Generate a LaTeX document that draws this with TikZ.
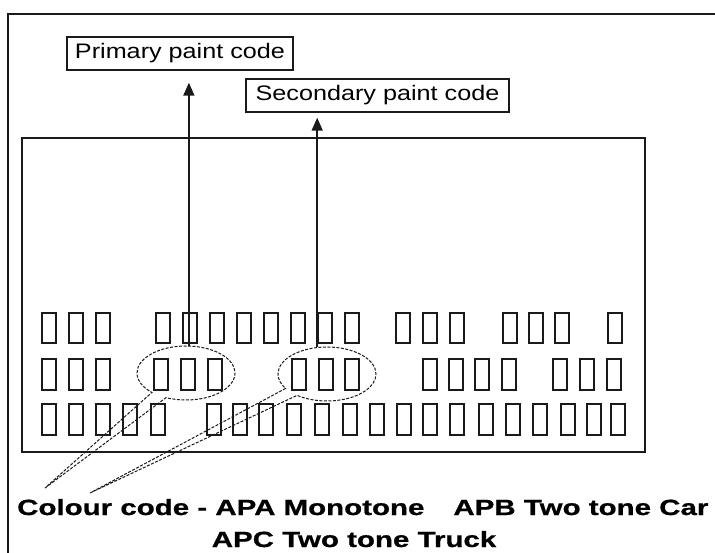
\documentclass[tikz,border=0pt]{standalone}
\usepackage{fontspec}
\setmainfont{Liberation Sans}
\newfontfamily\labelfont[FakeStretch=1.2]{Liberation Sans}
\newfontfamily\notefont[FakeStretch=1.34,FakeBold=0.8]{Liberation Sans}
\usetikzlibrary{positioning,arrows.meta,calc,shapes.callouts}
\definecolor{ink}{HTML}{1A1A1A}

\tikzset{
  codelabel/.style={draw=ink, line width=1.4pt, minimum height=33pt, inner sep=0pt,
    font=\labelfont\fontsize{21}{24}\selectfont},
  codering/.style={ellipse callout, draw=ink, line width=1pt, dash pattern=on 3pt off 1.5pt,
    minimum width=98pt, minimum height=54pt, callout pointer arc=20},
  codearrow/.style={draw=ink, line width=1.6pt, -{Triangle[length=13pt,width=11pt]}},
  notetext/.style={inner sep=0pt, font=\notefont\bfseries\fontsize{22}{26}\selectfont},
  cell/.style={draw=ink, line width=1.6pt}
}

\begin{document}
\begin{tikzpicture}[x=1pt,y=-1pt]
\useasboundingbox (0,0) rectangle (715,553);
\draw[ink, line width=1.4pt] (8,553) -- (8,14) -- (715,14);
\draw[ink, line width=2pt] (22,138) rectangle (645,452);
% rows of character cells
\foreach \x in {42,69,96,156,183,210,237,264,291,318,345,396,423,450,503,529,555,608}
  \draw[cell] (\x,313) rectangle ++(14,30);
\foreach \x in {42,69,96,154,181,208,292,319,345,423,449,475,502,553,580,607}
  \draw[cell] (\x,359) rectangle ++(14,31);
\foreach \x in {42,69,96,123,151,207,233,259,287,315,343,370,397,423,450,479,506,533,561,587,611}
  \draw[cell] (\x,404) rectangle ++(14,31);
\node[codelabel, minimum width=226pt] (prim) at (180,53.5) {Primary paint code};
\node[codelabel, minimum width=263pt] (sec) at (377.5,95.5) {Secondary paint code};
\coordinate (tipA) at (45,488);
\coordinate (tipB) at (90,493);
\node[codering, callout absolute pointer=(tipA)] (ell1) at (186,373) {};
\node[codering, callout absolute pointer=(tipB)] (ell2) at (327,374) {};
\draw[codearrow, shorten >=12pt] (ell1.84) -- (ell1.84 |- prim.south);
\draw[codearrow, shorten >=5pt] (ell2.110) -- (ell2.110 |- sec.south);
\node[notetext, anchor=base west] (cap1) at (17,515) {Colour code - APA Monotone\hspace{29pt}APB Two tone Car};
\node[notetext, anchor=base] (cap2) at (354,547) {APC Two tone Truck};
\end{tikzpicture}
\end{document}
